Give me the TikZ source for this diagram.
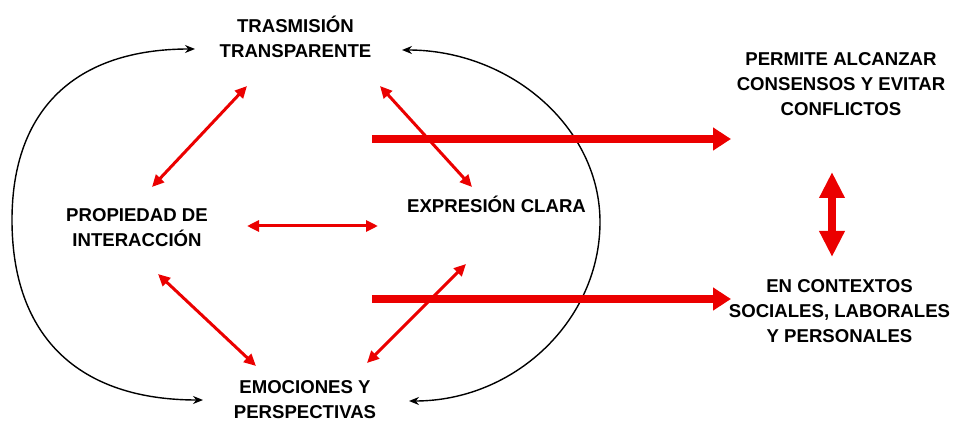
\documentclass[tikz,border=0pt]{standalone}
\usepackage{fontspec}
\setmainfont{Liberation Sans}
\usetikzlibrary{arrows.meta}
\definecolor{arrowred}{RGB}{235,0,0}
\begin{document}
\begin{tikzpicture}[x=1pt,y=-1pt,
  txt/.style={font=\fontsize{18.6}{25}\selectfont\bfseries, align=center, anchor=base, inner sep=0pt},
  link/.style={draw=arrowred, line width=3pt,
    {Triangle[length=12pt,width=11pt]}-{Triangle[length=12pt,width=11pt]}},
  flow/.style={draw=arrowred, line width=7.5pt, -{Triangle[length=18pt,width=22pt]}},
  bothflow/.style={draw=arrowred, line width=8pt,
    {Triangle[length=26pt,width=24pt]}-{Triangle[length=26pt,width=24pt]}},
  cycleline/.style={draw=black, line width=1.4pt,
    {Stealth[length=10pt,width=8pt]}-{Stealth[length=10pt,width=8pt]}}
]
\useasboundingbox (0,0) rectangle (956,422);

% concept labels (positioned by the baseline of their last line)
\node[txt] (tras) at (295.5,58) {TRASMISIÓN\\TRANSPARENTE};
\node[txt] (prop) at (137,247) {PROPIEDAD DE\\INTERACCIÓN};
\node[txt] (expr) at (496.5,213) {EXPRESIÓN CLARA};
\node[txt] (emo)  at (305,418) {EMOCIONES Y\\PERSPECTIVAS};
\node[txt] (perm) at (841,116) {PERMITE ALCANZAR\\CONSENSOS Y EVITAR\\CONFLICTOS};
\node[txt] (ctx)  at (839.5,342) {EN CONTEXTOS\\SOCIALES, LABORALES\\Y PERSONALES};

% end points of the connectors
\coordinate (tp) at (247,86);   \coordinate (pt) at (152,187);
\coordinate (te) at (380,86);   \coordinate (et) at (472,187);
\coordinate (pe) at (247,226);  \coordinate (ep) at (378,226);
\coordinate (pm) at (158,274);  \coordinate (mp) at (256,366);
\coordinate (em) at (466,264);  \coordinate (me) at (367,363);
\coordinate (f1s) at (372,139); \coordinate (f1e) at (731,139);
\coordinate (f2s) at (372,299); \coordinate (f2e) at (731,299);
\coordinate (pc) at (832,172);  \coordinate (cp) at (832,257);
\coordinate (lt) at (195,49);   \coordinate (lb) at (203,400);
\coordinate (rt) at (402,50);   \coordinate (rb) at (409,401);

% outer cycle arcs
\draw[cycleline] (lt) .. controls (76,49) and (12,109) .. (12,220)
                      .. controls (12,337) and (79,400) .. (lb);
\draw[cycleline] (rt) .. controls (510,50) and (600,127) .. (600,222)
                      .. controls (600,320) and (515,401) .. (rb);

% links between concepts
\draw[link] (tp) -- (pt);
\draw[link] (te) -- (et);
\draw[link] (pe) -- (ep);
\draw[link] (pm) -- (mp);
\draw[link] (em) -- (me);

% outcomes
\draw[flow] (f1s) -- (f1e);
\draw[flow] (f2s) -- (f2e);
\draw[bothflow] (pc) -- (cp);
\end{tikzpicture}
\end{document}
